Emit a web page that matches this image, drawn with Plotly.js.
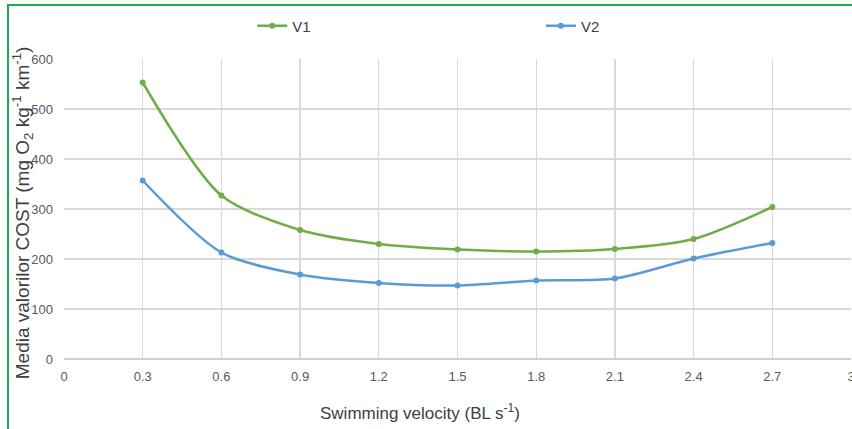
<!DOCTYPE html>
<html>
<head>
<meta charset="utf-8">
<script src="https://cdn.plot.ly/plotly-3.0.1.min.js"></script>
<style>
html,body{margin:0;padding:0;overflow:hidden;background:#fff;width:852px;height:429px;}
#frame{position:absolute;left:7px;top:4px;width:900px;height:440px;border-top:2.5px solid #12B050;border-left:2px solid #12B050;}
#chart{position:absolute;left:0;top:0;width:880px;height:429px;}
</style>
</head>
<body>
<div id="chart"></div>
<div id="frame"></div>
<script>
const velocity = [0.3, 0.6, 0.9, 1.2, 1.5, 1.8, 2.1, 2.4, 2.7];
const v1 = [553, 327, 258, 230, 219, 215, 220, 240, 304];
const v2 = [357, 213, 169, 152, 147, 157, 161, 201, 232];
const xTicks = [0, 0.3, 0.6, 0.9, 1.2, 1.5, 1.8, 2.1, 2.4, 2.7, 3];
const xTickText = ['0', '0.3', '0.6', '0.9', '1.2', '1.5', '1.8', '2.1', '2.4', '2.7', '3'];
const yTicks = [0, 100, 200, 300, 400, 500, 600];

const W = 880, H = 429;
const L = 63.5, R = W - 851.5, T = 59.3, B = H - 359.3;
const pw = W - L - R, ph = H - T - B;
const narrow = 'Liberation Sans Narrow, Arial Narrow, sans-serif';

const traces = [
  {x: velocity, y: v1, name: 'V1', type: 'scatter', mode: 'lines+markers', legend: 'legend',
   line: {color: '#70AD47', width: 2.5, shape: 'spline', smoothing: 0.8},
   marker: {color: '#70AD47', size: 6, symbol: 'circle'}},
  {x: velocity, y: v2, name: 'V2', type: 'scatter', mode: 'lines+markers', legend: 'legend2',
   line: {color: '#5B9BD5', width: 2.5, shape: 'spline', smoothing: 0.8},
   marker: {color: '#5B9BD5', size: 6, symbol: 'circle'}}
];

function legendAt(px) {
  return {orientation: 'h', x: (px - L) / pw, yref: 'container', y: 1 - 26 / H, xanchor: 'left', yanchor: 'middle',
    itemwidth: 30, font: {family: narrow, size: 15, color: '#404040'}, bgcolor: 'rgba(0,0,0,0)'};
}

const layout = {
  width: W, height: H,
  margin: {l: L, r: R, t: T, b: B, pad: 0, autoexpand: false},
  paper_bgcolor: 'rgba(0,0,0,0)', plot_bgcolor: '#fff',
  font: {family: 'Liberation Sans, Arial, sans-serif', color: '#595959'},
  showlegend: true,
  legend: legendAt(252),
  legend2: legendAt(541),
  xaxis: {range: [0, 3], tickvals: xTicks, ticktext: xTickText, showgrid: true, gridcolor: '#D9D9D9', gridwidth: 1.3,
    zeroline: false, showline: false, ticks: '', ticklabelstandoff: 8, automargin: false,
    tickfont: {family: narrow, size: 13, color: '#595959'}},
  yaxis: {range: [0, 600], tickvals: yTicks, showgrid: true, gridcolor: '#D9D9D9', gridwidth: 1.3,
    zeroline: true, zerolinecolor: '#D0D0D0', zerolinewidth: 1.5, showline: false, ticks: '', ticklabelstandoff: 10, automargin: false,
    tickfont: {family: narrow, size: 13, color: '#595959'}},
  annotations: [
    {text: 'Media valorilor COST (mg O<sub>2</sub> kg<sup>-1</sup> km<sup>-1</sup>)', textangle: -90,
     xref: 'paper', yref: 'paper', x: (22 - L) / pw, y: (359.3 - 213) / ph, xanchor: 'center', yanchor: 'middle',
     showarrow: false, font: {family: 'Liberation Sans, Arial, sans-serif', size: 19, color: '#404040'}},
    {text: 'Swimming velocity (BL s<sup>-1</sup>)',
     xref: 'paper', yref: 'paper', x: (420 - L) / pw, y: (359.3 - 412) / ph, xanchor: 'center', yanchor: 'middle',
     showarrow: false, font: {family: narrow, size: 17, color: '#404040'}}
  ]
};

Plotly.newPlot('chart', traces, layout, {displayModeBar: false, staticPlot: true});
</script>
</body>
</html>
